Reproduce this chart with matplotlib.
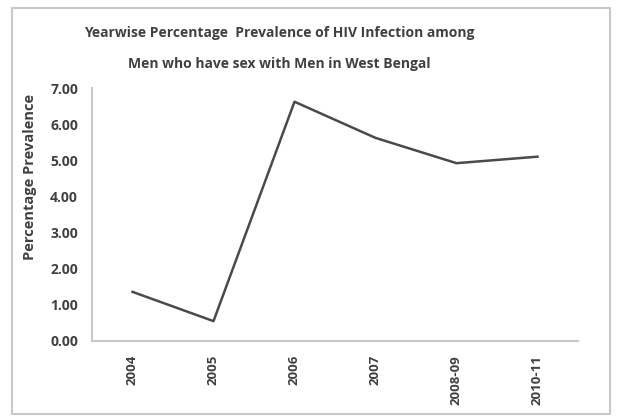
import matplotlib
matplotlib.use("Agg")
import matplotlib.pyplot as plt
from matplotlib.patches import Rectangle

years = ["2004", "2005", "2006", "2007", "2008-09", "2010-11"]
prevalence = [1.36, 0.55, 6.62, 5.62, 4.92, 5.10]
yticks = [0, 1, 2, 3, 4, 5, 6, 7]

plt.rcParams["font.family"] = ["Open Sans", "DejaVu Sans"]

fig = plt.figure(figsize=(6.2, 4.18), dpi=100)
fig.patch.set_facecolor("white")

# outer chart frame
fig.add_artist(Rectangle((12 / 620, 1 - 414 / 418), 598 / 620, 406 / 418,
                         transform=fig.transFigure, fill=False,
                         edgecolor="#c8c8c8", linewidth=1.5))

ax = fig.add_axes([92 / 620, 1 - 341 / 418, 486 / 620, 253 / 418])
x = list(range(len(years)))
ax.plot(x, prevalence, color="#4a4a4a", linewidth=1.8)

ax.set_xlim(-0.5, len(years) - 0.5)
ax.set_ylim(0, 7)
ax.set_yticks(yticks)
ax.set_yticklabels([f"{v:.2f}" for v in yticks], fontsize=10,
                   fontweight="bold", color="#404040")
ax.set_xticks(x)
ax.set_xticklabels(years, rotation=90, fontsize=9.5, fontweight="bold",
                   color="#404040")
ax.tick_params(axis="y", length=0, pad=10)
ax.tick_params(axis="x", length=0, pad=10)

for side in ("top", "right"):
    ax.spines[side].set_visible(False)
for side in ("left", "bottom"):
    ax.spines[side].set_color("#c8c8c8")
    ax.spines[side].set_linewidth(1.5)

ax.set_ylabel("Percentage Prevalence", fontsize=10.5, fontweight="bold",
              color="#404040")
ax.yaxis.set_label_coords((37 - 92) / 486, (341 - 177) / 253)

fig.text(279 / 620, 1 - 33 / 418,
         "Yearwise Percentage  Prevalence of HIV Infection among",
         ha="center", va="center", fontsize=10, fontweight="bold",
         color="#404040")
fig.text(279 / 620, 1 - 64 / 418,
         "Men who have sex with Men in West Bengal",
         ha="center", va="center", fontsize=10, fontweight="bold",
         color="#404040")

fig.savefig("out.png", dpi=100, facecolor="white")
